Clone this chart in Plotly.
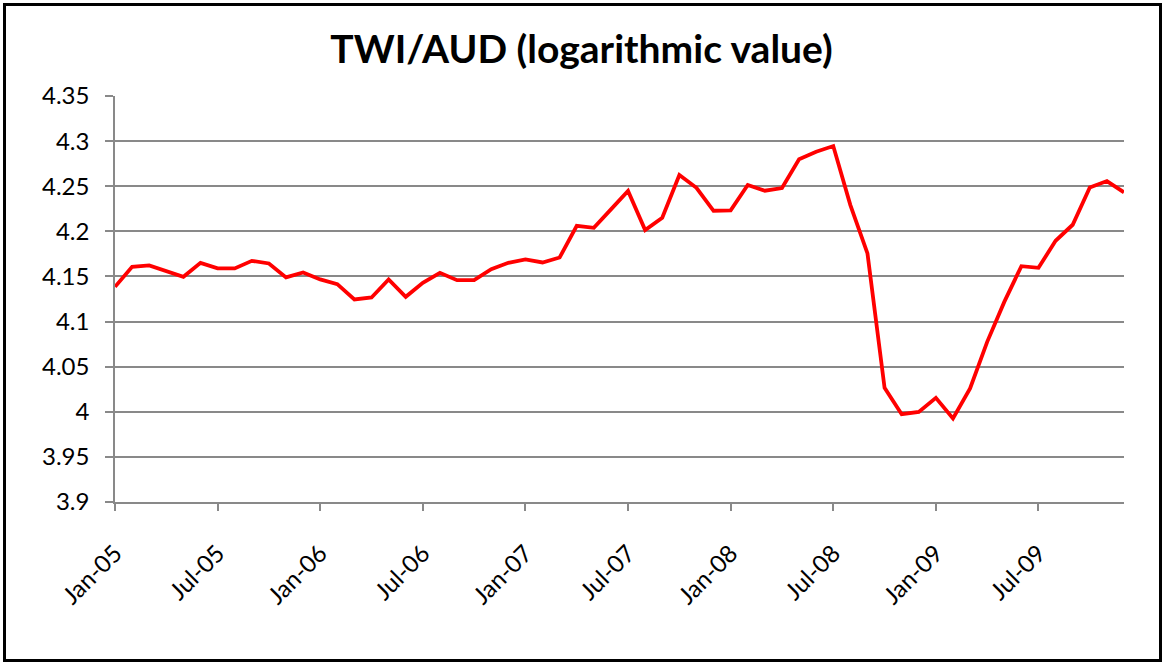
import plotly.graph_objects as go

months = [f"{m}-{y:02d}" for y in range(5, 10) for m in
          ["Jan", "Feb", "Mar", "Apr", "May", "Jun", "Jul", "Aug", "Sep", "Oct", "Nov", "Dec"]]

twi_aud = [
    4.1385, 4.1607, 4.1622, 4.1562, 4.1496, 4.1651, 4.1589, 4.1589, 4.1673, 4.1644, 4.1489, 4.1544,
    4.1467, 4.1415, 4.1245, 4.1267, 4.1467, 4.1274, 4.1429, 4.1540, 4.1459, 4.1459, 4.1581, 4.1651,
    4.1689, 4.1655, 4.1710, 4.2061, 4.2039, 4.2243, 4.2448, 4.2014, 4.2150, 4.2624, 4.2483, 4.2228,
    4.2232, 4.2513, 4.2450, 4.2480, 4.2798, 4.2882, 4.2945, 4.2291, 4.1755, 4.0265, 3.9973, 3.9998,
    4.0154, 3.9925, 4.0258, 4.0775, 4.1218, 4.1614, 4.1596, 4.1895, 4.2073, 4.2487, 4.2557, 4.2432,
]

tick_labels = ["Jan-05", "Jul-05", "Jan-06", "Jul-06", "Jan-07", "Jul-07",
               "Jan-08", "Jul-08", "Jan-09", "Jul-09"]

W, H = 1163, 662
L, R, T, B = 115, 39, 96, 160
pw, ph = W - L - R, H - T - B

fig = go.Figure()
fig.add_trace(go.Scatter(x=months, y=twi_aud, mode="lines",
                         line=dict(color="#FF0000", width=3.8), hoverinfo="x+y"))

grid = "#898989"
fig.update_layout(
    width=W, height=H,
    margin=dict(l=L, r=R, t=T, b=B),
    paper_bgcolor="white", plot_bgcolor="white",
    showlegend=False,
    font=dict(family="Lato, 'Open Sans', sans-serif", color="black", size=24),
    title=dict(text="<b>TWI/AUD (logarithmic value)</b>", x=0.5, xanchor="center",
               y=1 - 49 / H, yanchor="middle", xref="container",
               font=dict(size=39, family="Lato, sans-serif", color="black")),
    xaxis=dict(type="category", categoryorder="array", categoryarray=months,
               range=[0, len(months) - 1],
               tickmode="array", tickvals=tick_labels, ticktext=tick_labels,
               tickangle=-45, ticks="outside", ticklen=7, tickcolor=grid, tickwidth=1.5,
               showline=True, linecolor=grid, linewidth=1.5, showgrid=False,
               zeroline=False, ticklabelstandoff=19),
    yaxis=dict(range=[3.9, 4.35], dtick=0.05, tick0=3.9, ticks="outside", ticklen=8,
               tickcolor=grid, tickwidth=1.5, showline=True, linecolor=grid, linewidth=1.5,
               showgrid=True, gridcolor=grid, gridwidth=1.5, zeroline=False,
               ticklabelstandoff=11),
)

# outer chart border
x0 = (4.5 - L) / pw
x1 = (1160.5 - L) / pw
y0 = (H - B - 660.5) / ph
y1 = (H - B - 4.5) / ph
fig.add_shape(type="rect", xref="paper", yref="paper", x0=x0, x1=x1, y0=y0, y1=y1,
              line=dict(color="black", width=3), layer="above")

fig.write_html("out.html", config={"displayModeBar": False},
               post_script="document.body.style.margin='0';document.body.style.overflow='hidden';")
